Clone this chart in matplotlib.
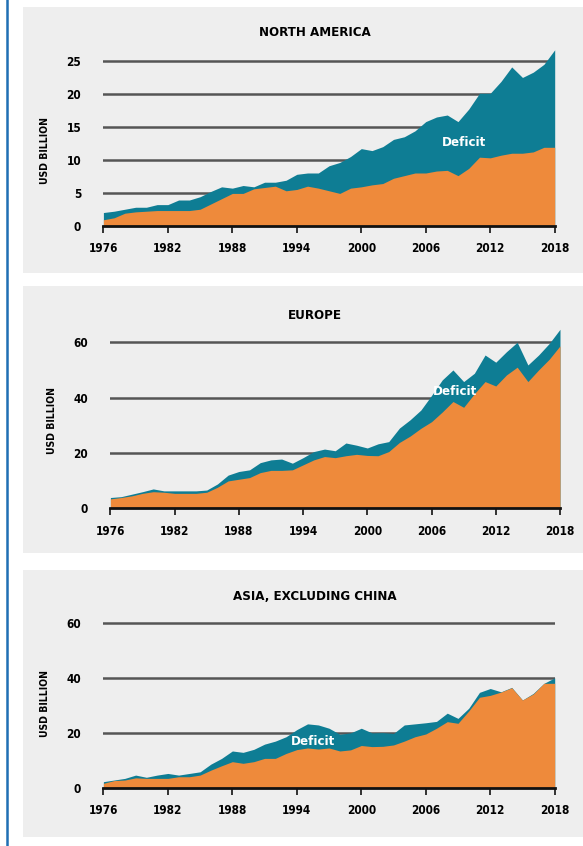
import matplotlib
matplotlib.use('Agg')
import matplotlib.pyplot as plt
from matplotlib.patches import Rectangle
from matplotlib.lines import Line2D

years = list(range(1976, 2019))
xticks = [1976, 1982, 1988, 1994, 2000, 2006, 2012, 2018]

# North America: upper edge (teal) and lower series (orange)
na_top = [2.0, 2.2, 2.5, 2.8, 2.8, 3.2, 3.2, 3.9, 3.9, 4.4, 5.2, 5.9, 5.7, 6.1, 5.9,
          6.6, 6.6, 6.9, 7.8, 8.0, 8.0, 9.1, 9.6, 10.5, 11.7, 11.4, 12.0, 13.1, 13.5,
          14.4, 15.8, 16.5, 16.8, 15.8, 17.7, 20.1, 20.1, 21.9, 24.1, 22.5, 23.3, 24.5, 26.7]
na_low = [0.9, 1.2, 1.9, 2.1, 2.2, 2.3, 2.3, 2.3, 2.3, 2.5, 3.3, 4.1, 4.9, 4.9, 5.6,
          5.8, 6.0, 5.3, 5.5, 6.0, 5.7, 5.3, 4.9, 5.7, 5.9, 6.2, 6.4, 7.2, 7.6,
          8.0, 8.0, 8.3, 8.4, 7.6, 8.7, 10.4, 10.3, 10.7, 11.0, 11.0, 11.2, 11.9, 11.9]

eu_top = [3.9, 4.2, 5.1, 6.0, 7.0, 6.3, 6.3, 6.3, 6.3, 6.6, 8.8, 12.0, 13.3, 13.9, 16.5,
          17.5, 17.8, 16.3, 18.3, 20.5, 21.4, 20.8, 23.6, 22.8, 21.8, 23.3, 24.1, 29.0, 32.0,
          35.5, 40.8, 46.4, 50.0, 45.8, 48.8, 55.4, 52.8, 56.6, 60.0, 51.8, 55.4, 59.6, 64.7]
eu_low = [3.4, 3.9, 4.5, 5.4, 6.0, 5.8, 5.4, 5.4, 5.4, 5.8, 7.6, 9.9, 10.5, 11.1, 12.9,
          13.7, 13.7, 13.9, 15.7, 17.5, 18.7, 18.3, 19.0, 19.5, 19.1, 19.0, 20.5, 23.8, 26.1,
          28.9, 31.3, 34.8, 38.6, 36.5, 41.4, 45.8, 44.2, 48.2, 51.0, 45.8, 50.0, 53.9, 58.7]

as_top = [2.2, 2.8, 3.4, 4.6, 3.8, 4.6, 5.2, 4.6, 5.2, 5.8, 8.6, 10.7, 13.4, 12.9, 14.0,
          15.9, 17.0, 18.6, 21.2, 23.3, 22.9, 21.7, 19.5, 20.0, 21.7, 20.0, 20.1, 19.8, 22.9,
          23.3, 23.7, 24.2, 27.2, 25.3, 29.0, 34.8, 36.2, 35.0, 36.6, 32.0, 34.4, 38.1, 40.1]
as_low = [1.6, 2.6, 2.8, 3.6, 3.4, 3.4, 3.4, 4.0, 4.0, 4.6, 6.4, 8.0, 9.5, 8.9, 9.5,
          10.7, 10.7, 12.5, 13.9, 14.5, 14.1, 14.5, 13.4, 13.8, 15.4, 15.0, 15.1, 15.6, 17.0,
          18.6, 19.6, 21.7, 24.1, 23.5, 28.0, 33.0, 33.7, 34.9, 36.5, 32.0, 34.2, 38.1, 38.1]

TEAL = '#0e7d94'
ORANGE = '#ee8a3b'
BG = '#eeeeee'
FONT = ['DejaVu Sans']
TXT = dict(fontfamily=FONT, fontweight='bold', fontstretch='condensed')

W, H = 583, 846
fig = plt.figure(figsize=(W / 100, H / 100), dpi=100)
fig.patch.set_facecolor('white')

# left blue rule
fig.add_artist(Line2D([7 / W, 7 / W], [0, 1], color='#1f6fb4', lw=1.8,
                      transform=fig.transFigure))

panels = [
    # title, top, low, yticks, ymax, left/right px, zero px, px per unit, panel box, title y, ylabel xy, deficit xy
    ('NORTH AMERICA', na_top, na_low, [0, 5, 10, 15, 20, 25], 28, (103.4, 554.7), 225.7, 6.588,
     (7, 273), 33, (45, 150), (2009.6, 12.6)),
    ('EUROPE', eu_top, eu_low, [0, 20, 40, 60], 68, (110.4, 560.0), 508.3, 2.767,
     (286, 552.7), 315, (52, 420), (2008.2, 42.1)),
    ('ASIA, EXCLUDING CHINA', as_top, as_low, [0, 20, 40, 60], 64, (103.4, 554.7), 787.7, 2.74,
     (570, 836.7), 596, (45, 703), (1995.5, 17.0)),
]

for title, top, low, yt, ymax, (xl, xr), y0, ppu, (bt, bb), ty, (lx, ly), (dx, dy) in panels:
    fig.add_artist(Rectangle((22.7 / W, 1 - bb / H), 1 - 22.7 / W, (bb - bt) / H,
                             facecolor=BG, edgecolor='none', transform=fig.transFigure, zorder=0))
    ax = fig.add_axes([xl / W, 1 - y0 / H, (xr - xl) / W, ymax * ppu / H])
    ax.set_facecolor('none')
    ax.set_xlim(1976, 2018)
    ax.set_ylim(0, ymax)
    for v in yt[1:]:
        ax.axhline(v, color='#555555', lw=1.8, zorder=1)
    ax.fill_between(years, 0, top, color=TEAL, lw=0, zorder=2)
    ax.fill_between(years, 0, low, color=ORANGE, lw=0, zorder=3)
    ax.axhline(0, color='#111111', lw=2, zorder=4, clip_on=False)
    for s in ax.spines.values():
        s.set_visible(False)
    ax.set_xticks(xticks)
    ax.set_xticklabels([str(x) for x in xticks], fontsize=8.5, **TXT)
    ax.tick_params(axis='x', length=5, width=1.2, color='#111111', pad=7)
    ax.set_yticks(yt)
    ax.set_yticklabels([str(v) for v in yt], fontsize=8.5, **TXT)
    ax.tick_params(axis='y', length=0, pad=16)
    ax.text(dx, dy, 'Deficit', color='white', fontsize=9.5, ha='center', va='center',
            zorder=5, **TXT)
    fig.text(315 / W, 1 - ty / H, title, fontsize=9.5, ha='center', va='center', **TXT)
    fig.text(lx / W, 1 - ly / H, 'USD BILLION', fontsize=7.5, ha='center', va='center',
             rotation=90, **TXT)

fig.savefig('out.png', dpi=100, facecolor='white')
